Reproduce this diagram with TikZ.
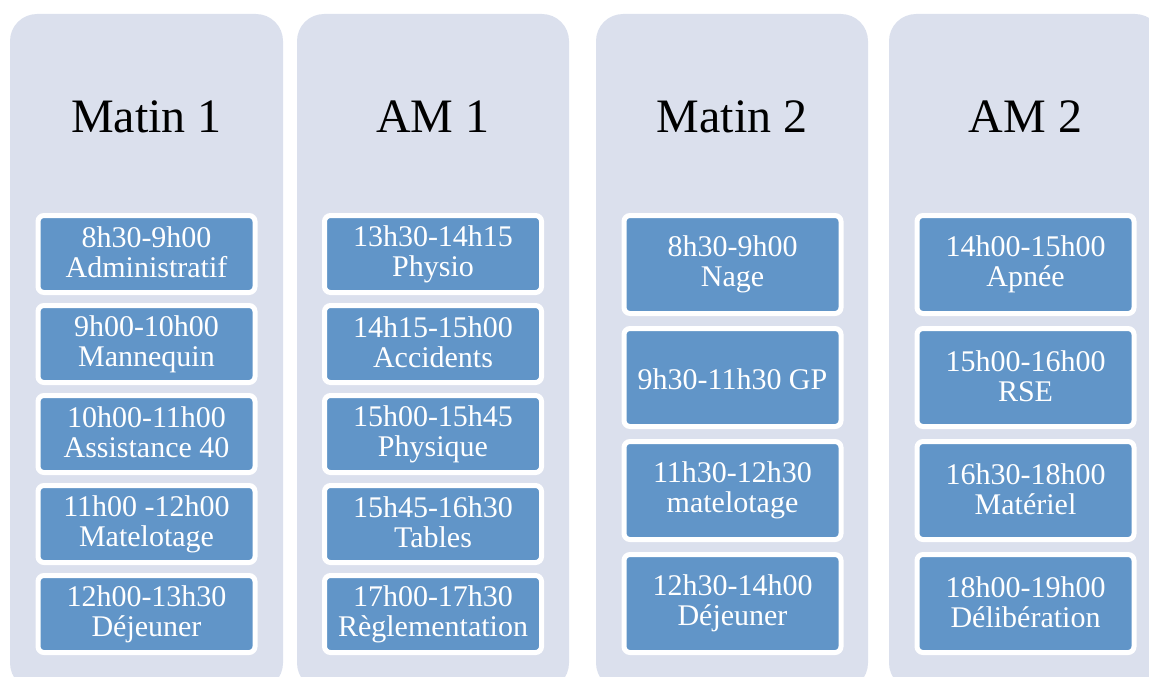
\documentclass[tikz,border=0pt]{standalone}
\usepackage{fontspec}
\setmainfont{Liberation Serif}
\definecolor{panelgray}{RGB}{219,224,237}
\definecolor{slotblue}{RGB}{97,149,200}
\begin{document}
\begin{tikzpicture}
  [x=1pt,y=-1pt,
   panel/.style={fill=panelgray,rounded corners=27pt},
   heading/.style={anchor=base,font=\fontsize{48}{56}\selectfont},
   slot/.style={draw=white,line width=5pt,fill=slotblue,rounded corners=6pt,
     text=white,align=center,inner sep=0pt,minimum width=217pt,
     font=\fontsize{30}{30}\selectfont,
     execute at begin node=\rule{0pt}{27pt},
     execute at end node=\rule[-3pt]{0pt}{3pt}},
   short slot/.style={slot,minimum height=77pt},
   tall slot/.style={slot,minimum height=98pt}]
  \useasboundingbox (0,0) rectangle (1149,677);
  \clip (0,0) rectangle (1149,677);
  % background columns
  \fill[panel] (10,14) rectangle (283,690);
  \fill[panel] (297,14) rectangle (569,690);
  \fill[panel] (596,14) rectangle (868,690);
  \fill[panel] (889,14) rectangle (1162,690);
  % headings
  \node[heading] (matin1) at (146.5,132) {Matin 1};
  \node[heading] (am1) at (433,132) {AM 1};
  \node[heading] (matin2) at (732,132) {Matin 2};
  \node[heading] (am2) at (1025.5,132) {AM 2};
  % first day
  \foreach \t [count=\i] in {{8h30-9h00\\Administratif},
      {9h00-10h00\\Mannequin},{10h00-11h00\\Assistance 40},
      {11h00 -12h00\\Matelotage},{12h00-13h30\\Déjeuner}}
    \node[short slot] (m1-\i) at (146.5,164+90*\i) {\t};
  \foreach \t [count=\i] in {{13h30-14h15\\Physio},
      {14h15-15h00\\Accidents},{15h00-15h45\\Physique},
      {15h45-16h30\\Tables},{17h00-17h30\\Règlementation}}
    \node[short slot] (a1-\i) at (433,164+90*\i) {\t};
  % second day
  \foreach \t [count=\i] in {{8h30-9h00\\Nage},{9h30-11h30 GP},
      {11h30-12h30\\matelotage},{12h30-14h00\\Déjeuner}}
    \node[tall slot] (m2-\i) at (732.5,151.5+113*\i) {\t};
  \foreach \t [count=\i] in {{14h00-15h00\\Apnée},{15h00-16h00\\RSE},
      {16h30-18h00\\Matériel},{18h00-19h00\\Délibération}}
    \node[tall slot] (a2-\i) at (1025.5,151.5+113*\i) {\t};
\end{tikzpicture}
\end{document}
